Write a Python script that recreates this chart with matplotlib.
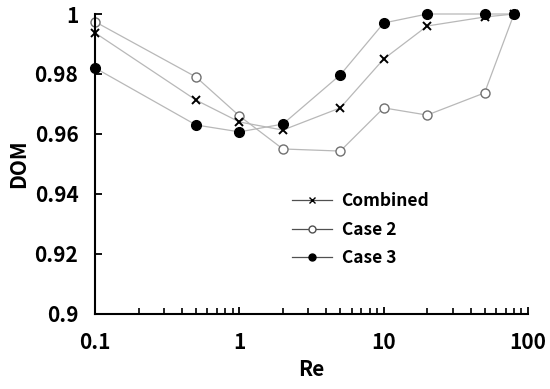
import numpy as np
import matplotlib
matplotlib.use("Agg")
import matplotlib.pyplot as plt
from matplotlib.ticker import LogLocator, NullFormatter

plt.rcParams['font.family'] = ['Noto Sans CJK KR', 'DejaVu Sans']

# Data
re_vals = [0.1, 0.5, 1, 2, 5, 10, 20, 50, 80]
combined = [0.9937, 0.9713, 0.964, 0.9613, 0.9687, 0.985, 0.996, 0.999, 1.0]
case2 = [0.9974, 0.979, 0.966, 0.955, 0.9543, 0.9687, 0.9663, 0.9737, 1.0]
case3 = [0.982, 0.963, 0.9607, 0.9633, 0.9797, 0.997, 1.0, 1.0, 1.0]

fig = plt.figure(figsize=(5.5, 3.89), dpi=100)
ax = fig.add_axes([0.173, 0.193, 0.787, 0.771])

line_c = '#b8b8b8'
ax.plot(re_vals, combined, color=line_c, lw=0.9, marker='x', ms=6, mec='black', mew=1.4,
        label='Combined', zorder=3, clip_on=False)
ax.plot(re_vals, case2, color=line_c, lw=0.9, marker='o', ms=6.5, mfc='white', mec='#707070', mew=1.0,
        label='Case 2', zorder=2, clip_on=False)
ax.plot(re_vals, case3, color=line_c, lw=0.9, marker='o', ms=7, mfc='black', mec='black',
        label='Case 3', zorder=4, clip_on=False)

ax.set_xscale('log')
ax.set_xlim(0.1, 100)
ax.set_ylim(0.9, 1.0)
ax.set_xticks([0.1, 1, 10, 100])
ax.set_xticklabels(['0.1', '1', '10', '100'])
ax.xaxis.set_minor_locator(LogLocator(base=10, subs=np.arange(2, 10)))
ax.xaxis.set_minor_formatter(NullFormatter())
ax.set_yticks([0.9, 0.92, 0.94, 0.96, 0.98, 1.0])
ax.set_yticklabels(['0.9', '0.92', '0.94', '0.96', '0.98', '1'])

for s in ['top', 'right']:
    ax.spines[s].set_visible(False)
for s in ['left', 'bottom']:
    ax.spines[s].set_linewidth(1.5)

ax.tick_params(axis='y', which='major', direction='in', length=5, width=1.3,
               labelsize=15, pad=12, color='black')
ax.tick_params(axis='x', which='major', direction='in', length=5, width=1.3,
               labelsize=15, pad=13, color='black')
ax.tick_params(axis='x', which='minor', direction='in', length=4, width=1.2, color='black')
for lbl in ax.get_xticklabels() + ax.get_yticklabels():
    lbl.set_fontweight('bold')

ax.set_xlabel('Re', fontsize=15, fontweight='bold', labelpad=4)
ax.set_ylabel('DOM', fontsize=15, fontweight='bold', labelpad=4)

leg = ax.legend(loc='upper left', bbox_to_anchor=(0.455, 0.405), frameon=False,
                borderaxespad=0, borderpad=0,
                prop={'size': 12.5, 'weight': 'bold'}, handlelength=2.3,
                handletextpad=0.55, labelspacing=0.6)
for h in leg.legend_handles:
    h.set_color('#505050')
    h.set_linewidth(0.9)
    h.set_markersize(5)
    h.set_markeredgecolor('black')
leg.legend_handles[0].set_markeredgewidth(1.0)
leg.legend_handles[1].set_markeredgecolor('#505050')

fig.savefig('out.png', dpi=100)
